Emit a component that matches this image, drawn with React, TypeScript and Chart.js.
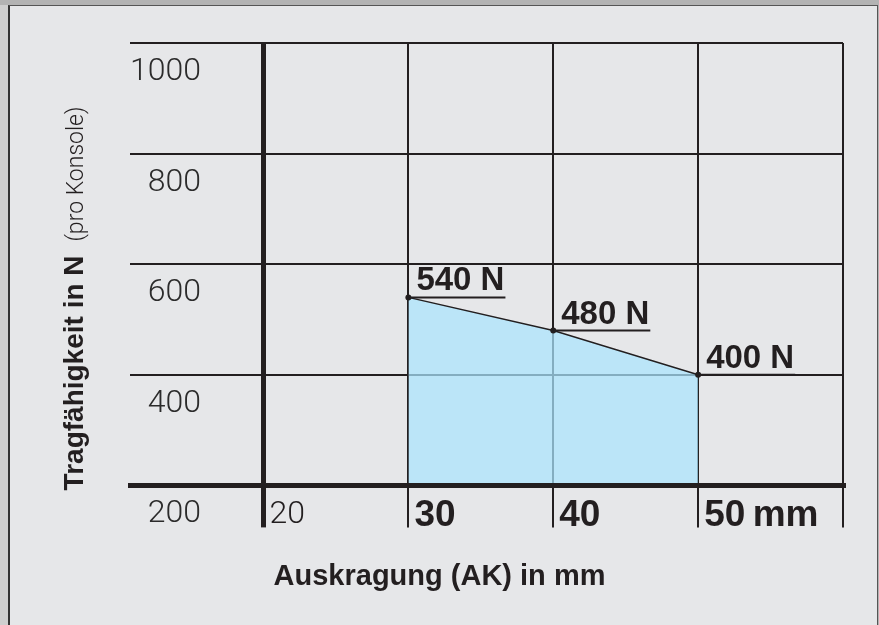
import React, { useEffect, useRef } from 'react';
import { Chart, registerables } from 'chart.js';

Chart.register(...registerables);

// ---- data ----
const projections = [30, 40, 50]; // Auskragung (AK) in mm
const loads = [540, 480, 400]; // Tragfähigkeit in N
const loadUnit = 'N';
const xTickValues = [20, 30, 40, 50, 60];
const xTickLabels = ['20', '30', '40', '50\u2009mm', ''];
const yTickValues = [200, 400, 600, 800, 1000];
const yTickLabels = ['200', '400', '600', '800', '1000'];
const xTitle = 'Auskragung (AK) in mm';
const yTitleMain = 'Tragfähigkeit in N';
const yTitleNote = '(pro Konsole)';

const INK = '#231f20';
const SANS = '"Liberation Sans", Arial, Helvetica, sans-serif';
const LIGHT = 'Roboto, "Liberation Sans", Arial, sans-serif';

const pointLabelPlugin = {
  id: 'pointLabels',
  afterDatasetsDraw(chart: any) {
    const meta = chart.getDatasetMeta(0);
    const ctx = chart.ctx;
    ctx.save();
    ctx.font = `bold 33px ${SANS}`;
    ctx.fillStyle = INK;
    ctx.strokeStyle = INK;
    ctx.lineWidth = 2;
    ctx.textAlign = 'left';
    ctx.textBaseline = 'alphabetic';
    meta.data.forEach((pt: any, i: number) => {
      const text = `${loads[i]} ${loadUnit}`;
      const w = ctx.measureText(text).width;
      ctx.fillText(text, pt.x + 8, pt.y - 7);
      ctx.beginPath();
      ctx.moveTo(pt.x, pt.y);
      ctx.lineTo(pt.x + 9 + w, pt.y);
      ctx.stroke();
    });
    ctx.restore();
  },
};

const titlesPlugin = {
  id: 'axisTitles',
  afterDraw(chart: any) {
    const { ctx, chartArea } = chart;
    // x title, centred on the whole panel
    ctx.save();
    ctx.fillStyle = INK;
    ctx.font = `bold 29px ${SANS}`;
    ctx.textAlign = 'center';
    ctx.textBaseline = 'middle';
    ctx.fillText(xTitle, chart.width / 2, chartArea.bottom + 92);
    ctx.restore();
    // y title, rotated, two weights
    ctx.save();
    ctx.translate(chartArea.left - 47, chartArea.bottom + 5);
    ctx.rotate(-Math.PI / 2);
    ctx.fillStyle = INK;
    ctx.textAlign = 'left';
    ctx.textBaseline = 'alphabetic';
    ctx.font = `bold 28px ${SANS}`;
    ctx.fillText(yTitleMain, 0, 0);
    const w = ctx.measureText(yTitleMain).width;
    ctx.font = `300 23px ${LIGHT}`;
    ctx.fillText(yTitleNote, w + 14, 0);
    ctx.restore();
  },
};

export default function App() {
  const ref = useRef<HTMLCanvasElement | null>(null);

  useEffect(() => {
    if (!ref.current) return;
    const chart = new Chart(ref.current, {
      type: 'line',
      data: {
        datasets: [
          {
            data: projections.map((x, i) => ({ x, y: loads[i] })),
            borderColor: INK,
            borderWidth: 1.5,
            pointRadius: 3,
            pointBackgroundColor: INK,
            pointBorderColor: INK,
            pointBorderWidth: 0,
            backgroundColor: 'rgba(171,228,254,0.72)',
            fill: 'start',
            tension: 0,
          },
        ],
      },
      options: {
        animation: false,
        responsive: false,
        events: [],
        layout: { padding: { left: 130, right: 36, top: 43, bottom: 0 } },
        plugins: {
          legend: { display: false },
          tooltip: { enabled: false },
          title: { display: false },
        },
        scales: {
          x: {
            type: 'linear',
            min: 10.785,
            max: 60,
            afterBuildTicks: (scale: any) => {
              scale.ticks = xTickValues.map((v) => ({ value: v }));
            },
            afterFit: (scale: any) => {
              scale.height = 139.6;
            },
            grid: {
              color: INK,
              lineWidth: (c: any) => (c.tick && c.tick.value === xTickValues[0] ? 5 : 2),
              drawTicks: true,
              tickLength: 42,
            },
            border: { display: true, color: INK, width: 5, z: 1 },
            ticks: {
              autoSkip: false,
              maxRotation: 0,
              minRotation: 0,
              align: 'start',
              labelOffset: 6,
              padding: -34,
              color: INK,
              font: (c: any) =>
                c.tick && c.tick.value === xTickValues[0]
                  ? { family: LIGHT, size: 32, weight: '300', lineHeight: '44px' }
                  : { family: SANS, size: 37, weight: 'bold', lineHeight: '44px' },
              callback: (v: any) => {
                const i = xTickValues.indexOf(Number(v));
                return i >= 0 ? xTickLabels[i] : '';
              },
            },
          },
          y: {
            type: 'linear',
            min: yTickValues[0],
            max: yTickValues[yTickValues.length - 1],
            afterBuildTicks: (scale: any) => {
              scale.ticks = yTickValues.map((v) => ({ value: v }));
            },
            grid: { color: INK, lineWidth: 2, drawTicks: false, tickLength: 0 },
            border: { display: false },
            ticks: {
              mirror: true,
              crossAlign: 'far',
              padding: 0,
              labelOffset: 29,
              color: '#2b2b2b',
              font: { family: LIGHT, size: 32, weight: '300' },
              callback: (v: any) => {
                const i = yTickValues.indexOf(Number(v));
                return i >= 0 ? yTickLabels[i] : '';
              },
            },
          },
        },
      } as any,
      plugins: [pointLabelPlugin, titlesPlugin],
    });
    return () => chart.destroy();
  }, []);

  return (
    <div style={{ position: 'fixed', left: 0, top: 0, width: 879, height: 625, overflow: 'hidden', background: '#b3b3b3' }}>
      <div style={{ position: 'absolute', left: 0, top: 5, width: 9, height: 620, background: '#cfcfcf' }} />
      <div
        style={{
          position: 'absolute',
          left: 8,
          top: 5,
          width: 867,
          height: 640,
          background: '#e6e7e9',
          borderLeft: '2px solid #333',
          borderTop: '1px solid #555',
          borderRight: '1px solid #555',
        }}
      />
      <canvas ref={ref} width={879} height={625} style={{ position: 'absolute', left: 0, top: 0 }} />
    </div>
  );
}
